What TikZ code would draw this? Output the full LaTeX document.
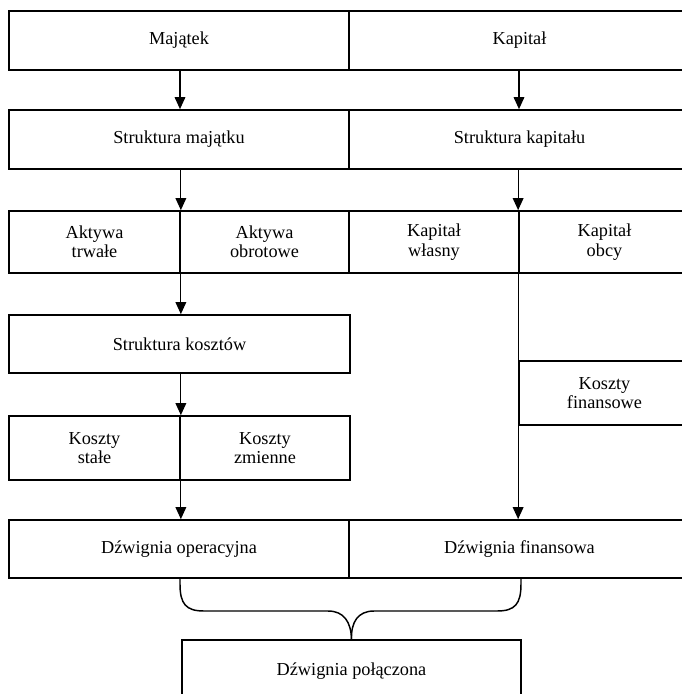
\documentclass[tikz,border=0pt]{standalone}
\usepackage{fontspec}
\setmainfont{Liberation Serif}
\usetikzlibrary{arrows.meta,fit}
\begin{document}
\begin{tikzpicture}[x=0.75pt,y=-0.75pt,
  font=\fontsize{13.7}{14.6}\selectfont,
  box/.style={draw,line width=1.3pt,inner sep=0pt,align=center},
  conn/.style={line width=0.9pt},
  arr/.style={conn,-{Triangle[length=9pt,width=8pt]}}]
\useasboundingbox (0,0) rectangle (682,694);
\clip (0,0) rectangle (682,694);
% row 1
\node[box,fit={(9,11) (349,70)}] (maj) {};
\node at (maj.center) {Majątek};
\node[box,fit={(349,11) (690,70)}] (kap) {};
\node at (kap.center) {Kapitał};
% row 2
\node[box,fit={(9,110) (349,169)}] (smaj) {};
\node at (smaj.center) {Struktura majątku};
\node[box,fit={(349,110) (690,169)}] (skap) {};
\node at (skap.center) {Struktura kapitału};
% row 3
\node[box,fit={(9,211) (180,273)}] (atr) {};
\node[align=center] at (atr.center) {Aktywa\\trwałe};
\node[box,fit={(180,211) (349,273)}] (aob) {};
\node[align=center] at (aob.center) {Aktywa\\obrotowe};
\node[box,fit={(349,211) (519,273)}] (kwl) {};
\node[align=center] at (kwl.center) {Kapitał\\własny};
\node[box,fit={(519,211) (690,273)}] (kob) {};
\node[align=center] at (kob.center) {Kapitał\\obcy};
% costs
\node[box,fit={(9,315) (350,373)}] (skosz) {};
\node at (skosz.center) {Struktura kosztów};
\node[box,fit={(9,416) (180,480)}] (kst) {};
\node[align=center] at (kst.center) {Koszty\\stałe};
\node[box,fit={(180,416) (350,480)}] (kzm) {};
\node[align=center] at (kzm.center) {Koszty\\zmienne};
\node[box,fit={(519,361) (690,425)}] (kfin) {};
\node[align=center] at (kfin.center) {Koszty\\finansowe};
% leverage
\node[box,fit={(9,520) (349,578)}] (dop) {};
\node at (dop.center) {Dźwignia operacyjna};
\node[box,fit={(349,520) (690,578)}] (dfi) {};
\node at (dfi.center) {Dźwignia finansowa};
\node[box,fit={(182,640) (521,702)}] (dpo) {};
\node at (dpo.center) {Dźwignia połączona};
% arrows
\coordinate (t1) at (180,70);
\draw[arr] (t1) -- (t1 |- smaj.north);
\coordinate (t2) at (519,70);
\draw[arr] (t2) -- (t2 |- skap.north);
\draw[arr] (atr.north east |- smaj.south) -- (atr.north east);
\draw[arr] (kob.north west |- skap.south) -- (kob.north west);
\draw[arr] (atr.south east) -- (atr.south east |- skosz.north);
\draw[arr] (kst.north east |- skosz.south) -- (kst.north east);
\draw[arr] (kst.south east) -- (kst.south east |- dop.north);
\draw[arr] (kob.south west) -- (kob.south west |- dfi.north);
% brace
\coordinate (bl) at (180,578);
\coordinate (br) at (521,578);
\draw[conn,line width=1.1pt] (bl) -- (180,584) .. controls (180,604) and (186,611) .. (204,611)
  -- (328,611) .. controls (344,611) and (351,622) .. (dpo.north);
\draw[conn,line width=1.1pt] (br) -- (521,584) .. controls (521,604) and (515,611) .. (497,611)
  -- (374,611) .. controls (358,611) and (351,622) .. (dpo.north);
\end{tikzpicture}
\end{document}
